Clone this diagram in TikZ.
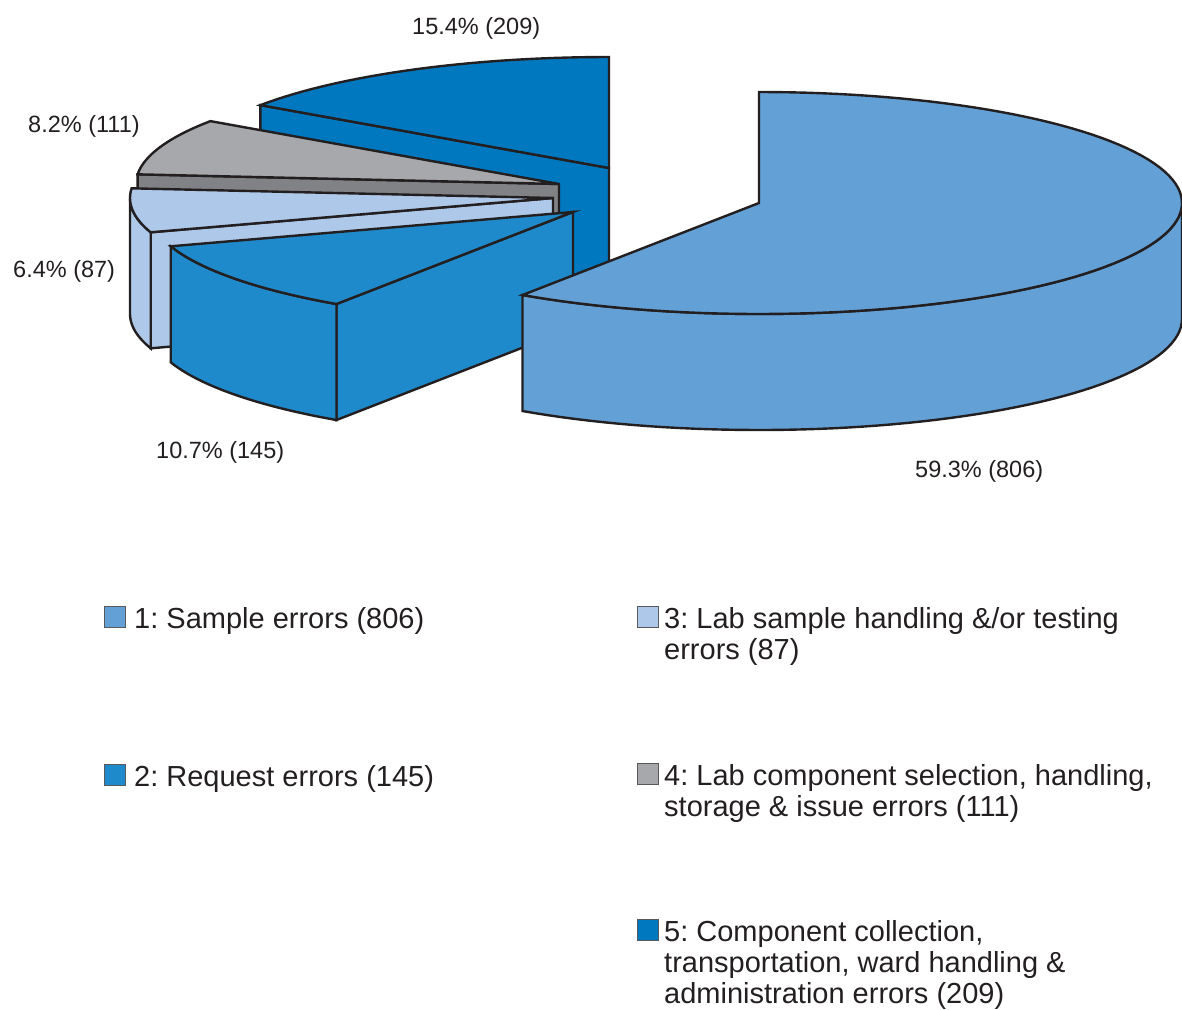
\documentclass[tikz,border=0pt]{standalone}
\usepackage{fontspec}
\setmainfont{Liberation Sans}
\frenchspacing

\definecolor{colone}{HTML}{62A0D6}
\definecolor{coltwo}{HTML}{1F8ACB}
\definecolor{colthree}{HTML}{ADC8E8}
\definecolor{colfour}{HTML}{A6A8AB}
\definecolor{colfourside}{HTML}{808285}
\definecolor{colfive}{HTML}{0078C0}
\definecolor{outline}{HTML}{231F20}
\definecolor{swatchgray}{HTML}{58595B}

\begin{document}
\begin{tikzpicture}[x=1pt, y=-1pt, line join=miter,
  slice/.style={draw=outline, line width=2.4pt},
  pct/.style={anchor=base west, inner sep=0pt, text=outline, font=\fontsize{23.5}{28}\selectfont},
  legend/.style={anchor=base west, inner sep=0pt, text=outline, font=\fontsize{29}{31}\selectfont},
  swatch/.style={draw=swatchgray, line width=1.2pt, inner sep=0pt, minimum size=21pt, anchor=south west}]
% Set the pie dimensions
\def\rx{423} % half width of the ellipse
\def\ry{111} % half height of the ellipse
\def\dz{116} % thickness of the slices

\useasboundingbox (0,0) rectangle (1182,1009);

% Slice 5 (back)
\begin{scope}[shift={(609,168)}]
\draw[slice, fill=colfive] (0,0) -- ({\rx*cos(145.5)},{-\ry*sin(145.5)}) -- ++(0,\dz) -- (0,\dz) -- cycle;
\draw[slice, fill=colfive] (0,0) -- plot[domain=145.5:90, samples=30] ({\rx*cos(\x)},{-\ry*sin(\x)}) -- cycle;
\end{scope}

% Slice 4
\begin{scope}[shift={(559,184)}]
\draw[slice, fill=colfourside] (0,0) -- ({\rx*cos(175)},{-\ry*sin(175)}) -- ++(0,\dz) -- (0,\dz) -- cycle;
\draw[slice, fill=colfour] (0,0) -- plot[domain=175:145.5, samples=20] ({\rx*cos(\x)},{-\ry*sin(\x)}) -- cycle;
\end{scope}

% Slice 3
\begin{scope}[shift={(553,198)}]
\draw[slice, fill=colthree] (0,0) -- ({\rx*cos(198)},{-\ry*sin(198)}) -- ++(0,\dz) -- (0,\dz) -- cycle;
\draw[slice, fill=colthree] plot[domain=180:198, samples=15] ({\rx*cos(\x)},{-\ry*sin(\x)}) -- plot[domain=198:180, samples=15] ({\rx*cos(\x)},{\dz-\ry*sin(\x)}) -- cycle;
\draw[slice, fill=colthree] (0,0) -- plot[domain=198:175, samples=20] ({\rx*cos(\x)},{-\ry*sin(\x)}) -- cycle;
\end{scope}

% Slice 2
\begin{scope}[shift={(573,212)}]
\draw[slice, fill=coltwo] (0,0) -- ({\rx*cos(236)},{-\ry*sin(236)}) -- ++(0,\dz) -- (0,\dz) -- cycle;
\draw[slice, fill=coltwo] plot[domain=198:236, samples=25] ({\rx*cos(\x)},{-\ry*sin(\x)}) -- plot[domain=236:198, samples=25] ({\rx*cos(\x)},{\dz-\ry*sin(\x)}) -- cycle;
\draw[slice, fill=coltwo] (0,0) -- plot[domain=236:198, samples=25] ({\rx*cos(\x)},{-\ry*sin(\x)}) -- cycle;
\end{scope}

% Slice 1 (front)
\begin{scope}[shift={(759,203)}]
\draw[slice, fill=colone] plot[domain=236:360, samples=60] ({\rx*cos(\x)},{-\ry*sin(\x)}) -- plot[domain=360:236, samples=60] ({\rx*cos(\x)},{\dz-\ry*sin(\x)}) -- cycle;
\draw[slice, fill=colone] (0,0) -- plot[domain=236:450, samples=100] ({\rx*cos(\x)},{-\ry*sin(\x)}) -- cycle;
\end{scope}

% Percentages
\node[pct] (pct5) at (412,34) {15.4\% (209)};
\node[pct] (pct4) at (28,132) {8.2\% (111)};
\node[pct] (pct3) at (13,277) {6.4\% (87)};
\node[pct] (pct2) at (156,458) {10.7\% (145)};
\node[pct] (pct1) at (915,477) {59.3\% (806)};

% Legend
\node[swatch, fill=colone] (key1) at (104,628) {};
\node[legend] (lab1) at (134,628) {1: Sample errors (806)};
\node[swatch, fill=coltwo] (key2) at (104,786) {};
\node[legend] (lab2) at (134,786) {2: Request errors (145)};
\node[swatch, fill=colthree] (key3) at (637,628) {};
\node[legend] (lab3) at (664,628) {\vtop{\hbox{3: Lab sample handling \&/or testing}\hbox{errors (87)}}};
\node[swatch, fill=colfour] (key4) at (637,785) {};
\node[legend] (lab4) at (664,785) {\vtop{\hbox{4: Lab component selection, handling,}\hbox{storage \& issue errors (111)}}};
\node[swatch, fill=colfive] (key5) at (637,941) {};
\node[legend] (lab5) at (664,941) {\vtop{\hbox{5: Component collection,}\hbox{transportation, ward handling \&}\hbox{administration errors (209)}}};
\end{tikzpicture}
\end{document}
